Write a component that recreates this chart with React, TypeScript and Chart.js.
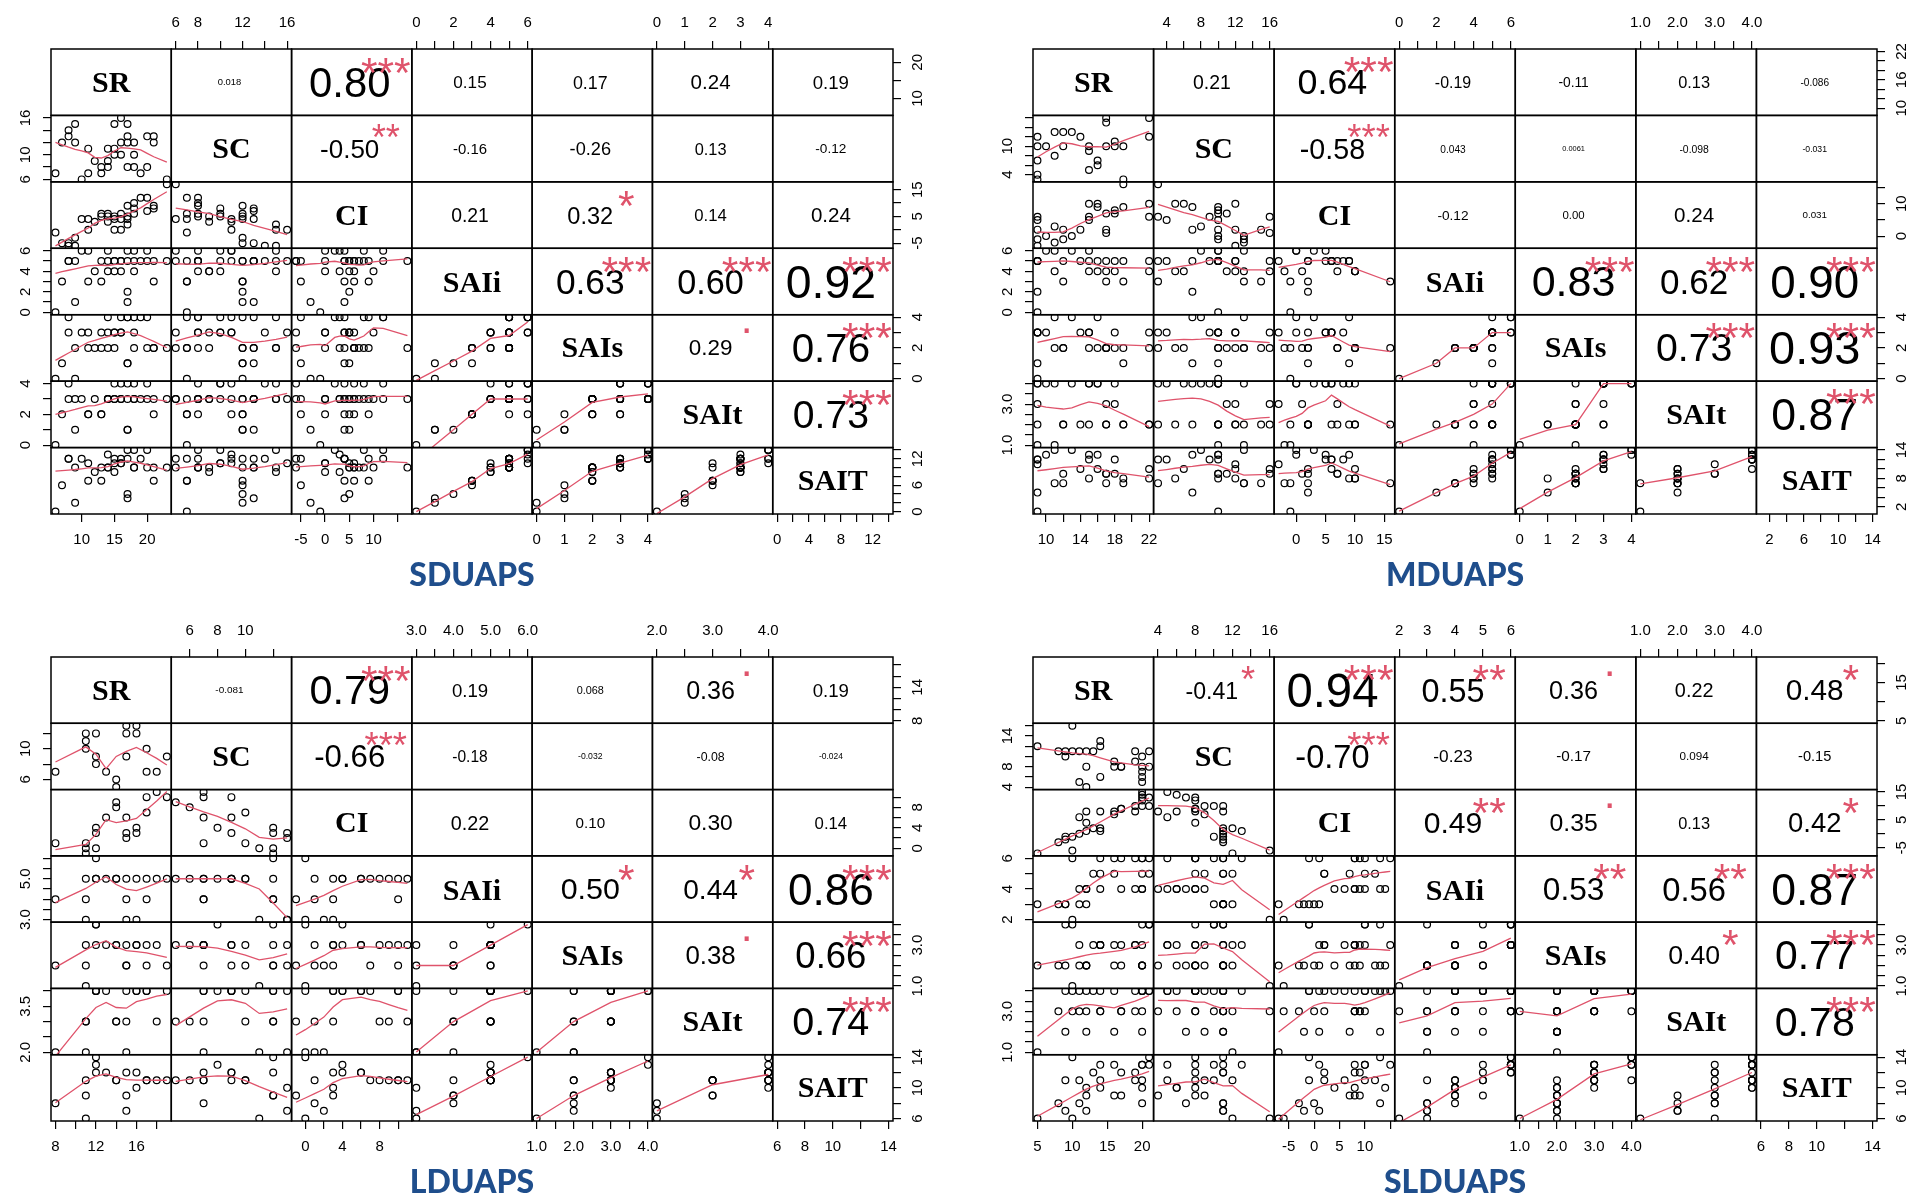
import React, { useEffect, useRef } from 'react';
import { Chart, registerables } from 'chart.js';

Chart.register(...registerables);

const VAR_NAMES = ['SR', 'SC', 'CI', 'SAIi', 'SAIs', 'SAIt', 'SAIT'];

// ===================== SDUAPS =====================
const SD_SR = [6, 7, 8, 8, 9, 9, 10, 11, 11, 12, 13, 13, 14, 14, 14, 15, 15, 15, 16, 16, 16, 17, 17, 17, 17, 18, 18, 18, 19, 20, 20, 21, 21, 23];
const SD_SC = [7, 12, 14, 13, 15, 12, 6, 11, 7, 9, 7, 8, 8, 11, 9, 11, 15, 10, 16, 10, 12, 15, 13, 12, 8, 10, 8, 12, 7, 8, 13, 13, 12, 6];
const SD_CI = [-1, -5, -6, -5, -6, -3, 4, 0, 4, 3, 6, 5, 6, 3, 5, 4, 0, 5, 0, 6, 4, 2, 4, 5, 9, 8, 10, 6, 12, 12, 7, 8, 9, 17];
const SD_SAIi = [0, 3, 5, 5, 5, 1, 6, 6, 3, 4, 3, 5, 5, 6, 4, 5, 4, 5, 5, 4, 5, 6, 1, 2, 5, 6, 4, 5, 5, 6, 5, 5, 3, 5];
const SD_SAIs = [0, 1, 3, 4, 2, 0, 3, 3, 2, 2, 2, 3, 2, 4, 3, 3, 2, 3, 3, 3, 4, 4, 1, 1, 4, 4, 3, 2, 4, 4, 2, 2, 2, 2];
const SD_SAIt = [0, 2, 4, 3, 3, 1, 3, 2, 2, 3, 2, 2, 3, 3, 3, 4, 3, 3, 3, 4, 3, 4, 1, 1, 3, 4, 3, 3, 3, 4, 3, 3, 2, 3];
const SD_SAIT = [0, 6, 12, 12, 10, 2, 12, 11, 7, 9, 7, 10, 10, 13, 10, 12, 9, 11, 11, 11, 12, 14, 3, 4, 12, 14, 10, 10, 12, 14, 10, 10, 7, 10];
const SD_XTICKS = [[10, 15, 20], [6, 8, 10, 12, 14, 16], [-5, 0, 5, 10, 15], [0, 1, 2, 3, 4, 5, 6], [0, 1, 2, 3, 4], [0, 1, 2, 3, 4], [0, 2, 4, 6, 8, 10, 12, 14]];
const SD_XLABELS = [['10', '15', '20'], ['6', '8', '', '12', '', '16'], ['-5', '0', '5', '10', ''], ['0', '', '2', '', '4', '', '6'], ['0', '1', '2', '3', '4'], ['0', '1', '2', '3', '4'], ['0', '', '4', '', '8', '', '12', '']];
const SD_YTICKS = [[10, 15, 20], [6, 8, 10, 12, 14, 16], [-5, 0, 5, 10, 15], [0, 1, 2, 3, 4, 5, 6], [0, 1, 2, 3, 4], [0, 1, 2, 3, 4], [0, 2, 4, 6, 8, 10, 12, 14]];
const SD_YLABELS = [['10', '', '20'], ['6', '', '10', '', '', '16'], ['-5', '', '5', '', '15'], ['0', '', '2', '', '4', '', '6'], ['0', '', '2', '', '4'], ['0', '', '2', '', '4'], ['0', '', '', '6', '', '', '12', '']];
const SD_COR = ['0.018', '0.80', '0.15', '0.17', '0.24', '0.19', '-0.50', '-0.16', '-0.26', '0.13', '-0.12', '0.21', '0.32', '0.14', '0.24', '0.63', '0.60', '0.92', '0.29', '0.76', '0.73'];
const SD_SIG = ['', '***', '', '', '', '', '**', '', '', '', '', '', '*', '', '', '***', '***', '***', '.', '***', '***'];

// ===================== MDUAPS =====================
const MD_SR = [9, 9, 9, 9, 9, 10, 11, 11, 12, 12, 13, 14, 15, 15, 15, 16, 16, 17, 17, 17, 18, 18, 19, 19, 22, 22];
const MD_SC = [3, 4, 7, 10, 12, 10, 8, 13, 13, 10, 13, 12, 10, 9, 5, 7, 6, 16, 15, 10, 10, 11, 10, 3, 16, 12];
const MD_CI = [6, 5, 2, -1, -3, 0, 3, -2, -1, 2, 0, 2, 5, 6, 10, 9, 10, 1, 2, 7, 8, 7, 9, 16, 6, 10];
const MD_SAIi = [5, 5, 2, 0, 5, 6, 6, 4, 3, 5, 6, 5, 6, 5, 4, 5, 4, 4, 3, 5, 5, 4, 5, 3, 5, 4];
const MD_SAIs = [3, 3, 1, 0, 3, 3, 4, 2, 2, 2, 4, 3, 3, 3, 2, 4, 2, 2, 2, 2, 3, 2, 1, 2, 3, 2];
const MD_SAIt = [4, 4, 2, 1, 3, 4, 4, 1, 2, 2, 4, 2, 4, 4, 2, 4, 4, 3, 2, 2, 4, 3, 2, 2, 2, 2];
const MD_SAIT = [12, 12, 5, 1, 11, 13, 14, 7, 7, 9, 14, 10, 13, 12, 8, 13, 10, 9, 7, 9, 12, 9, 8, 7, 10, 8];
const MD_XTICKS = [[10, 12, 14, 16, 18, 20, 22], [4, 6, 8, 10, 12, 14, 16], [0, 5, 10, 15], [0, 1, 2, 3, 4, 5, 6], [0, 1, 2, 3, 4], [1, 1.5, 2, 2.5, 3, 3.5, 4], [2, 4, 6, 8, 10, 12, 14]];
const MD_XLABELS = [['10', '', '14', '', '18', '', '22'], ['4', '', '8', '', '12', '', '16'], ['0', '5', '10', '15'], ['0', '', '2', '', '4', '', '6'], ['0', '1', '2', '3', '4'], ['1.0', '', '2.0', '', '3.0', '', '4.0'], ['2', '', '6', '', '10', '', '14']];
const MD_YTICKS = [[10, 12, 14, 16, 18, 20, 22], [4, 6, 8, 10, 12, 14, 16], [0, 5, 10, 15], [0, 1, 2, 3, 4, 5, 6], [0, 1, 2, 3, 4], [1, 1.5, 2, 2.5, 3, 3.5, 4], [2, 4, 6, 8, 10, 12, 14]];
const MD_YLABELS = [['10', '', '', '16', '', '', '22'], ['4', '', '', '10', '', '', ''], ['0', '', '10', ''], ['0', '', '2', '', '4', '', '6'], ['0', '', '2', '', '4'], ['1.0', '', '', '', '3.0', '', ''], ['2', '', '', '8', '', '', '14']];
const MD_COR = ['0.21', '0.64', '-0.19', '-0.11', '0.13', '-0.086', '-0.58', '0.043', '0.0061', '-0.098', '-0.031', '-0.12', '0.00', '0.24', '0.031', '0.83', '0.62', '0.90', '0.73', '0.93', '0.87'];
const MD_SIG = ['', '***', '', '', '', '', '***', '', '', '', '', '', '', '', '', '***', '***', '***', '***', '***', '***'];

// ===================== LDUAPS =====================
const LD_SR = [8, 11, 11, 11, 12, 12, 12, 13, 14, 14, 15, 15, 15, 16, 16, 17, 17, 18, 19];
const LD_SC = [7, 12, 11, 10, 12, 9, 8, 7, 6, 5, 9, 13, 12, 12, 13, 10, 7, 7, 9];
const LD_CI = [1, -1, 0, 1, 0, 3, 4, 6, 8, 9, 6, 2, 3, 4, 3, 7, 10, 11, 10];
const LD_SAIi = [4, 4, 3, 5, 6, 5, 5, 5, 5, 5, 5, 3, 4, 5, 3, 5, 4, 5, 5];
const LD_SAIs = [2, 2, 1, 3, 4, 3, 4, 3, 3, 3, 3, 2, 2, 3, 3, 2, 3, 3, 2];
const LD_SAIt = [2, 3, 2, 3, 4, 4, 4, 4, 3, 3, 4, 2, 3, 4, 4, 4, 4, 3, 4];
const LD_SAIT = [8, 9, 6, 11, 14, 12, 13, 12, 11, 11, 12, 7, 9, 12, 10, 11, 11, 11, 11];
const LD_XTICKS = [[8, 10, 12, 14, 16, 18], [6, 8, 10, 12], [0, 2, 4, 6, 8, 10], [3, 3.5, 4, 4.5, 5, 5.5, 6], [1, 1.5, 2, 2.5, 3, 3.5, 4], [2, 2.5, 3, 3.5, 4], [6, 8, 10, 12, 14]];
const LD_XLABELS = [['8', '', '12', '', '16', ''], ['6', '8', '10', ''], ['0', '', '4', '', '8', ''], ['3.0', '', '4.0', '', '5.0', '', '6.0'], ['1.0', '', '2.0', '', '3.0', '', '4.0'], ['2.0', '', '3.0', '', '4.0'], ['6', '8', '10', '', '14']];
const LD_YTICKS = [[8, 10, 12, 14, 16, 18], [6, 8, 10, 12], [0, 2, 4, 6, 8, 10], [3, 3.5, 4, 4.5, 5, 5.5, 6], [1, 1.5, 2, 2.5, 3, 3.5, 4], [2, 2.5, 3, 3.5, 4], [6, 8, 10, 12, 14]];
const LD_YLABELS = [['8', '', '', '14', '', ''], ['6', '', '10', ''], ['0', '', '4', '', '8', ''], ['3.0', '', '', '', '5.0', '', ''], ['1.0', '', '', '', '3.0', '', ''], ['2.0', '', '', '3.5', ''], ['6', '', '10', '', '14']];
const LD_COR = ['-0.081', '0.79', '0.19', '0.068', '0.36', '0.19', '-0.66', '-0.18', '-0.032', '-0.08', '-0.024', '0.22', '0.10', '0.30', '0.14', '0.50', '0.44', '0.86', '0.38', '0.66', '0.74'];
const LD_SIG = ['', '***', '', '', '.', '', '***', '', '', '', '', '', '', '', '', '*', '*', '***', '.', '***', '***'];

// ===================== SLDUAPS =====================
const SL_SR = [5, 8, 9, 9, 10, 10, 11, 11, 12, 12, 12, 13, 14, 14, 14, 16, 16, 17, 17, 19, 19, 20, 20, 20, 20, 20, 21, 21];
const SL_SC = [12, 11, 11, 10, 16, 11, 11, 5, 11, 8, 4, 11, 13, 12, 6, 8, 9, 8, 8, 11, 9, 10, 8, 7, 6, 5, 11, 8];
const SL_CI = [-7, -3, -2, -1, -6, -1, 0, 6, 1, 4, 8, 2, 1, 2, 8, 8, 7, 9, 9, 8, 10, 10, 12, 13, 14, 15, 10, 13];
const SL_SAIi = [3, 3, 3, 3, 2, 6, 3, 4, 3, 4, 4, 5, 6, 5, 4, 6, 5, 6, 4, 6, 4, 6, 5, 4, 4, 6, 5, 6];
const SL_SAIs = [2, 2, 2, 4, 1, 4, 2, 3, 2, 2, 2, 3, 3, 3, 3, 3, 2, 3, 2, 3, 3, 4, 2, 2, 2, 3, 4, 4];
const SL_SAIt = [1, 3, 2, 4, 3, 4, 3, 4, 2, 4, 3, 4, 4, 3, 3, 4, 2, 3, 3, 3, 4, 3, 4, 2, 4, 4, 4, 4];
const SL_SAIT = [6, 8, 7, 11, 6, 14, 8, 11, 7, 10, 9, 12, 13, 11, 10, 13, 9, 12, 9, 12, 11, 13, 11, 8, 10, 13, 13, 14];
const SL_XTICKS = [[5, 10, 15, 20], [4, 6, 8, 10, 12, 14, 16], [-5, 0, 5, 10, 15], [2, 3, 4, 5, 6], [1, 1.5, 2, 2.5, 3, 3.5, 4], [1, 1.5, 2, 2.5, 3, 3.5, 4], [6, 8, 10, 12, 14]];
const SL_XLABELS = [['5', '10', '15', '20'], ['4', '', '8', '', '12', '', '16'], ['-5', '0', '5', '10', ''], ['2', '3', '4', '5', '6'], ['1.0', '', '2.0', '', '3.0', '', '4.0'], ['1.0', '', '2.0', '', '3.0', '', '4.0'], ['6', '8', '10', '', '14']];
const SL_YTICKS = [[5, 10, 15, 20], [4, 6, 8, 10, 12, 14, 16], [-5, 0, 5, 10, 15], [2, 3, 4, 5, 6], [1, 1.5, 2, 2.5, 3, 3.5, 4], [1, 1.5, 2, 2.5, 3, 3.5, 4], [6, 8, 10, 12, 14]];
const SL_YLABELS = [['5', '', '15', ''], ['4', '', '8', '', '', '14', ''], ['-5', '', '5', '', '15'], ['2', '', '4', '', '6'], ['1.0', '', '', '', '3.0', '', ''], ['1.0', '', '', '', '3.0', '', ''], ['6', '', '10', '', '14']];
const SL_COR = ['-0.41', '0.94', '0.55', '0.36', '0.22', '0.48', '-0.70', '-0.23', '-0.17', '0.094', '-0.15', '0.49', '0.35', '0.13', '0.42', '0.53', '0.56', '0.87', '0.40', '0.77', '0.78'];
const SL_SIG = ['*', '***', '**', '.', '', '*', '***', '', '', '', '', '**', '.', '', '*', '**', '**', '***', '*', '***', '***'];

const PANELS = [
  { title: 'SDUAPS', vars: [SD_SR, SD_SC, SD_CI, SD_SAIi, SD_SAIs, SD_SAIt, SD_SAIT], xt: SD_XTICKS, xl: SD_XLABELS, yt: SD_YTICKS, yl: SD_YLABELS, cor: SD_COR, sig: SD_SIG },
  { title: 'MDUAPS', vars: [MD_SR, MD_SC, MD_CI, MD_SAIi, MD_SAIs, MD_SAIt, MD_SAIT], xt: MD_XTICKS, xl: MD_XLABELS, yt: MD_YTICKS, yl: MD_YLABELS, cor: MD_COR, sig: MD_SIG },
  { title: 'LDUAPS', vars: [LD_SR, LD_SC, LD_CI, LD_SAIi, LD_SAIs, LD_SAIt, LD_SAIT], xt: LD_XTICKS, xl: LD_XLABELS, yt: LD_YTICKS, yl: LD_YLABELS, cor: LD_COR, sig: LD_SIG },
  { title: 'SLDUAPS', vars: [SL_SR, SL_SC, SL_CI, SL_SAIi, SL_SAIs, SL_SAIt, SL_SAIT], xt: SL_XTICKS, xl: SL_XLABELS, yt: SL_YTICKS, yl: SL_YLABELS, cor: SL_COR, sig: SL_SIG },
];

// layout (canvas placement and matrix box paddings)
const CANVAS_W = 964;
const CANVAS_H = 600;
const LAYOUT = [
  { left: 0, top: 0, pad: { left: 51, top: 49, right: 71, bottom: 86 } },
  { left: 964, top: 0, pad: { left: 69, top: 49, right: 51, bottom: 86 } },
  { left: 0, top: 600, pad: { left: 51, top: 57, right: 71, bottom: 79 } },
  { left: 964, top: 600, pad: { left: 69, top: 57, right: 51, bottom: 79 } },
];

const RED = '#DF536B';
const SANS = '"Liberation Sans", Arial, sans-serif';
const SERIF = '"Liberation Serif", "Times New Roman", serif';
const TITLE_FONT = '900 32px Lato, "Open Sans", sans-serif';
const TITLE_COLOR = '#1F4E8C';

function rangeOf(v: number[]): [number, number] {
  let mn = Infinity;
  let mx = -Infinity;
  for (const a of v) {
    if (a < mn) mn = a;
    if (a > mx) mx = a;
  }
  const d = (mx - mn) * 0.04;
  return [mn - d, mx + d];
}

// ---- R's lowess (clowess port) ----
function lowest(x: number[], y: number[], n: number, xs: number, nleft: number, nright: number, w: number[], userw: boolean, rw: number[]) {
  const range = x[n - 1] - x[0];
  const h = Math.max(xs - x[nleft], x[nright] - xs);
  const h9 = 0.999 * h;
  const h1 = 0.001 * h;
  let a = 0;
  let j = nleft;
  while (j < n) {
    w[j] = 0;
    const r = Math.abs(x[j] - xs);
    if (r <= h9) {
      if (r <= h1) w[j] = 1;
      else w[j] = Math.pow(1 - Math.pow(r / h, 3), 3);
      if (userw) w[j] *= rw[j];
      a += w[j];
    } else if (x[j] > xs) break;
    j++;
  }
  const nrt = j - 1;
  if (a <= 0) return { ok: false, ys: 0 };
  for (j = nleft; j <= nrt; j++) w[j] /= a;
  if (h > 0) {
    a = 0;
    for (j = nleft; j <= nrt; j++) a += w[j] * x[j];
    let b = xs - a;
    let c = 0;
    for (j = nleft; j <= nrt; j++) c += w[j] * (x[j] - a) * (x[j] - a);
    if (Math.sqrt(c) > 0.001 * range) {
      b /= c;
      for (j = nleft; j <= nrt; j++) w[j] *= b * (x[j] - a) + 1;
    }
  }
  let ys = 0;
  for (j = nleft; j <= nrt; j++) ys += w[j] * y[j];
  return { ok: true, ys };
}

function clowess(x: number[], y: number[], f: number, nsteps: number, delta: number): number[] {
  const n = x.length;
  const ys = new Array(n).fill(0);
  const rw = new Array(n).fill(0);
  const res = new Array(n).fill(0);
  if (n < 2) return y.slice();
  const ns = Math.max(2, Math.min(n, Math.floor(f * n + 1e-7)));
  for (let iter = 1; iter <= nsteps + 1; iter++) {
    let nleft = 0;
    let nright = ns - 1;
    let last = -1;
    let i = 0;
    for (;;) {
      if (nright < n - 1) {
        const d1 = x[i] - x[nleft];
        const d2 = x[nright + 1] - x[i];
        if (d1 > d2) {
          nleft++;
          nright++;
          continue;
        }
      }
      const r = lowest(x, y, n, x[i], nleft, nright, res, iter > 1, rw);
      ys[i] = r.ok ? r.ys : y[i];
      if (last < i - 1) {
        const denom = x[i] - x[last];
        for (let j = last + 1; j < i; j++) {
          const alpha = (x[j] - x[last]) / denom;
          ys[j] = alpha * ys[i] + (1 - alpha) * ys[last];
        }
      }
      last = i;
      const cut = x[last] + delta;
      for (i = last + 1; i < n; i++) {
        if (x[i] > cut) break;
        if (x[i] === x[last]) {
          ys[i] = ys[last];
          last = i;
        }
      }
      i = Math.max(last + 1, i - 1);
      if (last >= n - 1) break;
    }
    for (i = 0; i < n; i++) res[i] = y[i] - ys[i];
    let sc = 0;
    for (i = 0; i < n; i++) sc += Math.abs(res[i]);
    sc /= n;
    if (iter > nsteps) break;
    for (i = 0; i < n; i++) rw[i] = Math.abs(res[i]);
    const sorted = rw.slice().sort((a, b) => a - b);
    const m1 = Math.floor(n / 2);
    let cmad: number;
    if (n % 2 === 0) cmad = 3 * (sorted[m1] + sorted[n - m1 - 1]);
    else cmad = 6 * sorted[m1];
    if (cmad < 1e-7 * sc) break;
    const c9 = 0.999 * cmad;
    const c1 = 0.001 * cmad;
    for (i = 0; i < n; i++) {
      const r = Math.abs(res[i]);
      rw[i] = r <= c1 ? 1 : r <= c9 ? Math.pow(1 - Math.pow(r / cmad, 2), 2) : 0;
    }
  }
  return ys;
}

function lowessLine(xIn: number[], yIn: number[]) {
  const idx = xIn.map((_, k) => k).sort((a, b) => xIn[a] - xIn[b] || a - b);
  const x = idx.map((k) => xIn[k]);
  const y = idx.map((k) => yIn[k]);
  const delta = 0.01 * (x[x.length - 1] - x[0]);
  const ys = clowess(x, y, 2 / 3, 3, delta);
  return x.map((xv, k) => ({ x: xv, y: ys[k] }));
}

function labelFor(ticks: number[], labels: string[], v: number): string {
  for (let k = 0; k < ticks.length; k++) if (Math.abs(ticks[k] - v) < 1e-9) return labels[k] || '';
  return '';
}

function inkText(ctx: CanvasRenderingContext2D, txt: string, cx: number, cy: number) {
  ctx.textAlign = 'center';
  ctx.textBaseline = 'alphabetic';
  const m = ctx.measureText(txt);
  const asc = m.actualBoundingBoxAscent;
  const desc = m.actualBoundingBoxDescent;
  ctx.fillText(txt, cx, cy + (asc - desc) / 2);
}

function buildConfig(p: any): any {
  const ranges = p.vars.map((v: number[]) => rangeOf(v));
  const scales: any = {};
  for (let j = 0; j < 7; j++) {
    const [mn, mx] = ranges[j];
    const tv = p.xt[j].filter((t: number) => t >= mn && t <= mx);
    scales['x' + j] = {
      type: 'linear',
      axis: 'x',
      position: j % 2 === 0 ? 'bottom' : 'top',
      min: mn,
      max: mx,
      bounds: 'data',
      afterBuildTicks: (s: any) => {
        s.ticks = tv.map((value: number) => ({ value }));
      },
      afterFit: (s: any) => {
        s.height = 0;
        s.paddingLeft = 0;
        s.paddingRight = 0;
        s.paddingTop = 0;
        s.paddingBottom = 0;
      },
      grid: { display: true, drawOnChartArea: false, drawTicks: true, tickLength: 8, color: '#000', lineWidth: 1.2 },
      border: { display: false },
      ticks: {
        autoSkip: false,
        maxRotation: 0,
        minRotation: 0,
        padding: 9,
        color: '#000',
        font: { family: SANS, size: 15 },
        callback: (val: any) => labelFor(p.xt[j], p.xl[j], Number(val)),
      },
    };
  }
  for (let i = 0; i < 7; i++) {
    const [mn, mx] = ranges[i];
    const tv = p.yt[i].filter((t: number) => t >= mn && t <= mx);
    scales['y' + i] = {
      type: 'linear',
      axis: 'y',
      position: i % 2 === 0 ? 'right' : 'left',
      min: mn,
      max: mx,
      bounds: 'data',
      afterBuildTicks: (s: any) => {
        s.ticks = tv.map((value: number) => ({ value }));
      },
      afterFit: (s: any) => {
        s.width = 0;
        s.paddingLeft = 0;
        s.paddingRight = 0;
        s.paddingTop = 0;
        s.paddingBottom = 0;
      },
      grid: { display: true, drawOnChartArea: false, drawTicks: true, tickLength: 8, color: '#000', lineWidth: 1.2 },
      border: { display: false },
      ticks: { display: false, autoSkip: false },
    };
  }

  const datasets: any[] = [];
  for (let i = 1; i < 7; i++) {
    for (let j = 0; j < i; j++) {
      const xs = p.vars[j];
      const ys = p.vars[i];
      const pts = xs.map((xv: number, k: number) => ({ x: xv, y: ys[k] }));
      datasets.push({
        type: 'scatter',
        data: pts,
        xAxisID: 'x' + j,
        yAxisID: 'y' + i,
        showLine: false,
        pointRadius: 3.4,
        pointBorderWidth: 1.2,
        pointBorderColor: '#000',
        pointBackgroundColor: 'rgba(0,0,0,0)',
        clip: 0,
        order: 1,
      });
      datasets.push({
        type: 'scatter',
        data: lowessLine(xs, ys),
        xAxisID: 'x' + j,
        yAxisID: 'y' + i,
        showLine: true,
        pointRadius: 0,
        borderColor: RED,
        borderWidth: 1.3,
        fill: false,
        clip: 0,
        order: 0,
      });
    }
  }

  const AXIS_BAND = 45;
  const decor = {
    id: 'pairsDecor',
    afterLayout(chart: any) {
      const ca = chart.chartArea;
      const cw = (ca.right - ca.left) / 7;
      const ch = (ca.bottom - ca.top) / 7;
      for (let j = 0; j < 7; j++) {
        const s = chart.scales['x' + j];
        s.left = ca.left + j * cw;
        s.right = s.left + cw;
        s.width = cw;
        if (s.position === 'bottom') {
          s.top = ca.bottom;
          s.bottom = ca.bottom + AXIS_BAND;
        } else {
          s.top = ca.top - AXIS_BAND;
          s.bottom = ca.top;
        }
        s.height = AXIS_BAND;
        s.configure();
      }
      for (let i = 0; i < 7; i++) {
        const s = chart.scales['y' + i];
        s.top = ca.top + i * ch;
        s.bottom = s.top + ch;
        s.height = ch;
        const xx = s.position === 'right' ? ca.right : ca.left;
        s.left = xx;
        s.right = xx;
        s.width = 0;
        s.configure();
      }
    },
    afterDraw(chart: any) {
      const ctx: CanvasRenderingContext2D = chart.ctx;
      const ca = chart.chartArea;
      const xsc = [0, 1, 2, 3, 4, 5, 6].map((j) => chart.scales['x' + j]);
      const ysc = [0, 1, 2, 3, 4, 5, 6].map((i) => chart.scales['y' + i]);
      ctx.save();
      // diagonal labels
      ctx.fillStyle = '#000';
      ctx.font = `bold 30px ${SERIF}`;
      for (let k = 0; k < 7; k++) {
        inkText(ctx, VAR_NAMES[k], (xsc[k].left + xsc[k].right) / 2, (ysc[k].top + ysc[k].bottom) / 2);
      }
      // correlations
      let idx = 0;
      for (let i = 0; i < 7; i++) {
        for (let j = i + 1; j < 7; j++) {
          const txt = p.cor[idx];
          const sig = p.sig[idx];
          idx++;
          const L = xsc[j].left;
          const R = xsc[j].right;
          const T = ysc[i].top;
          const B = ysc[i].bottom;
          const w = R - L;
          const h = B - T;
          ctx.save();
          ctx.beginPath();
          ctx.rect(L, T, w, h);
          ctx.clip();
          ctx.font = `100px ${SANS}`;
          const w100 = ctx.measureText(txt).width;
          const base = (0.8 * w * 100) / w100;
          const r = Math.abs(parseFloat(txt));
          ctx.font = `${(base * (r + 0.3)) / 1.3}px ${SANS}`;
          ctx.fillStyle = '#000';
          inkText(ctx, txt, L + 0.5 * w - 2, T + 0.5 * h);
          if (sig) {
            const sf = base * 0.86;
            ctx.font = `${sf}px ${SANS}`;
            ctx.fillStyle = RED;
            inkText(ctx, sig, L + 0.8 * w - 2, B - 0.8 * h + 0.07 * sf);
          }
          ctx.restore();
        }
      }
      // cell borders
      ctx.strokeStyle = '#000';
      ctx.lineWidth = 1.5;
      for (let i = 0; i < 7; i++) {
        for (let j = 0; j < 7; j++) {
          ctx.strokeRect(xsc[j].left, ysc[i].top, xsc[j].right - xsc[j].left, ysc[i].bottom - ysc[i].top);
        }
      }
      // vertical axis labels (rotated, parallel to axis)
      ctx.fillStyle = '#000';
      ctx.font = `15px ${SANS}`;
      ctx.textAlign = 'center';
      ctx.textBaseline = 'middle';
      for (let i = 0; i < 7; i++) {
        const s = ysc[i];
        const x = s.position === 'right' ? ca.right + 25 : ca.left - 25;
        p.yt[i].forEach((v: number, k: number) => {
          const lab = p.yl[i][k];
          if (!lab || v < s.min || v > s.max) return;
          const py = s.getPixelForValue(v);
          ctx.save();
          ctx.translate(x, py);
          ctx.rotate(-Math.PI / 2);
          ctx.fillText(lab, 0, 0);
          ctx.restore();
        });
      }
      // title
      ctx.font = TITLE_FONT;
      ctx.fillStyle = TITLE_COLOR;
      ctx.textAlign = 'center';
      ctx.textBaseline = 'middle';
      ctx.fillText(p.title, (ca.left + ca.right) / 2, ca.bottom + 62);
      ctx.restore();
    },
  };

  return { decor, scales, datasets };
}

function PairsPanel({ def, lay }: { def: any; lay: any }) {
  const ref = useRef<HTMLCanvasElement | null>(null);
  useEffect(() => {
    if (!ref.current) return;
    const { decor, scales, datasets } = buildConfig(def);
    const chart = new Chart(ref.current, {
      type: 'scatter',
      data: { datasets },
      options: {
        responsive: false,
        maintainAspectRatio: false,
        animation: false,
        events: [],
        layout: { padding: lay.pad },
        plugins: { legend: { display: false }, tooltip: { enabled: false }, title: { display: false } },
        scales,
      },
      plugins: [decor],
    } as any);
    return () => chart.destroy();
  }, [def, lay]);
  return (
    <canvas
      ref={ref}
      width={CANVAS_W}
      height={CANVAS_H}
      style={{ position: 'absolute', left: lay.left, top: lay.top, width: CANVAS_W, height: CANVAS_H }}
    />
  );
}

export default function App() {
  useEffect(() => {
    document.body.style.margin = '0';
    document.body.style.background = '#fff';
  }, []);
  return (
    <div style={{ position: 'relative', width: 1928, height: 1200, background: '#fff', overflow: 'hidden' }}>
      {PANELS.map((p, k) => (
        <PairsPanel key={k} def={p} lay={LAYOUT[k]} />
      ))}
    </div>
  );
}
